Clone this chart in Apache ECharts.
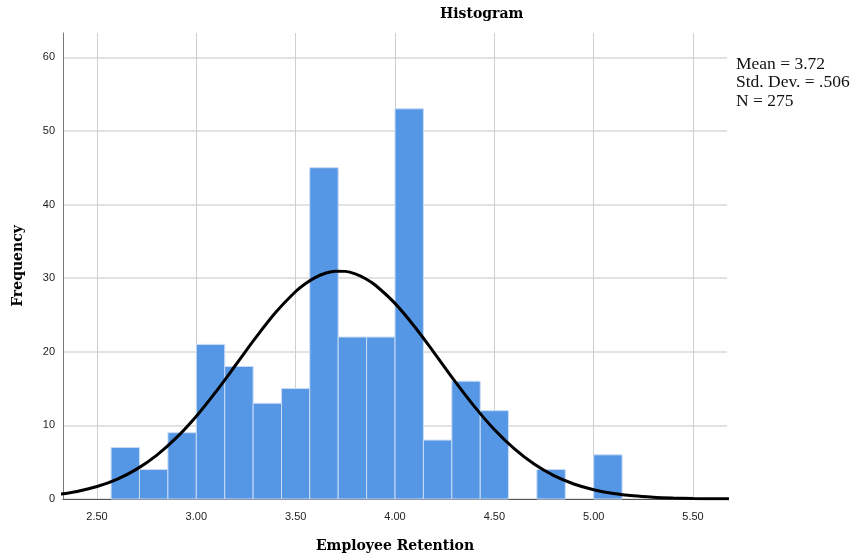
<!DOCTYPE html>
<html>
<head>
<meta charset="utf-8">
<script src="https://cdn.jsdelivr.net/npm/echarts@6/dist/echarts.min.js"></script>
<style>
html,body{margin:0;padding:0;background:#fff;}
#chart{width:857px;height:558px;}
</style>
</head>
<body>
<div id="chart"></div>
<script>
// Histogram bins (edges on multiples of 1/7) and frequencies
const binStart = [2.571, 2.714, 2.857, 3.000, 3.143, 3.286, 3.429, 3.571, 3.714, 3.857, 4.000, 4.143, 4.286, 4.429, 4.714, 5.000];
const binEnd   = [2.714, 2.857, 3.000, 3.143, 3.286, 3.429, 3.571, 3.714, 3.857, 4.000, 4.143, 4.286, 4.429, 4.571, 4.857, 5.143];
const counts   = [7, 4, 9, 21, 18, 13, 15, 45, 22, 22, 53, 8, 16, 12, 4, 6];

// Normal curve
const curveX = [2.3, 2.4, 2.5, 2.6, 2.7, 2.8, 2.9, 3.0, 3.1, 3.2, 3.3, 3.4, 3.5, 3.55, 3.6, 3.65, 3.7, 3.75, 3.8, 3.85, 3.9, 4.0, 4.1, 4.2, 4.3, 4.4, 4.5, 4.6, 4.7, 4.8, 4.9, 5.0, 5.1, 5.2, 5.3, 5.4, 5.5, 5.6, 5.7];
const curveY = [0.60, 1.03, 1.69, 2.67, 4.06, 5.93, 8.33, 11.25, 14.62, 18.27, 21.95, 25.36, 28.18, 29.27, 30.11, 30.67, 30.95, 30.92, 30.59, 29.96, 29.07, 26.57, 23.36, 19.75, 16.05, 12.55, 9.44, 6.83, 4.74, 3.17, 2.04, 1.26, 0.75, 0.43, 0.24, 0.13, 0.06, 0.03, 0.015];

const statLines = ['Mean = 3.72', 'Std. Dev. = .506', 'N = 275'];
const titleText = 'Histogram';
const xName = 'Employee Retention';
const yName = 'Frequency';

const chart = echarts.init(document.getElementById('chart'));
const barData = binStart.map((s, i) => [s, binEnd[i], counts[i]]);
const lineData = curveX.map((x, i) => [x, curveY[i]]);
const boldSerif = '"DejaVu Serif", serif';
const serif = '"Liberation Serif", "Times New Roman", serif';
const sans = '"Liberation Sans", Arial, sans-serif';

chart.setOption({
  animation: false,
  backgroundColor: '#ffffff',
  grid: { left: 63, right: 130, top: 33, bottom: 59 },
  xAxis: {
    type: 'value', min: 2.329, max: 5.671, splitNumber: 6,
    axisLine: { show: true, onZero: false, lineStyle: { color: '#555', width: 1 } },
    axisTick: { show: false },
    axisLabel: {
      color: '#222', fontSize: 11, fontFamily: sans, margin: 12,
      showMinLabel: false, showMaxLabel: false,
      formatter: v => v.toFixed(2)
    },
    splitLine: { show: true, showMinLine: false, showMaxLine: false, lineStyle: { color: '#cfcfcf', width: 1 } },
    name: xName, nameLocation: 'middle', nameGap: 40,
    nameTextStyle: { fontFamily: boldSerif, fontWeight: 'bold', fontSize: 14, color: '#000' }
  },
  yAxis: {
    type: 'value', min: 0, max: 63.3, interval: 10,
    axisLine: { show: true, lineStyle: { color: '#777', width: 1 } },
    axisTick: { show: false },
    axisLabel: {
      color: '#222', fontSize: 11, fontFamily: sans, margin: 8,
      showMaxLabel: false
    },
    splitLine: { show: true, showMaxLine: false, lineStyle: { color: '#d8d8d8', width: 1.5 } },
    name: yName, nameLocation: 'middle', nameGap: 38, nameRotate: 90,
    nameTextStyle: { fontFamily: boldSerif, fontWeight: 'bold', fontSize: 14, color: '#000' }
  },
  graphic: [
    { type: 'text', left: 440, top: 7, style: { text: titleText, font: 'bold 14px ' + boldSerif, fill: '#000' } },
    { type: 'text', left: 736, top: 55, style: { text: statLines.join('\n'), font: '17.5px ' + serif, fill: '#111', lineHeight: 18.5 } }
  ],
  series: [
    {
      type: 'custom',
      data: barData,
      encode: { x: [0, 1], y: 2 },
      renderItem: function (params, api) {
        const p0 = api.coord([api.value(0), api.value(2)]);
        const p1 = api.coord([api.value(1), 0]);
        return {
          type: 'rect',
          shape: { x: p0[0], y: p0[1], width: p1[0] - p0[0], height: p1[1] - p0[1] },
          style: { fill: '#5596e5', stroke: '#c9dcf5', lineWidth: 1 }
        };
      },
      z: 2
    },
    {
      type: 'line',
      data: lineData,
      smooth: 0.35,
      symbol: 'none',
      clip: true,
      lineStyle: { color: '#000', width: 3 },
      z: 3
    }
  ]
});
</script>
</body>
</html>
